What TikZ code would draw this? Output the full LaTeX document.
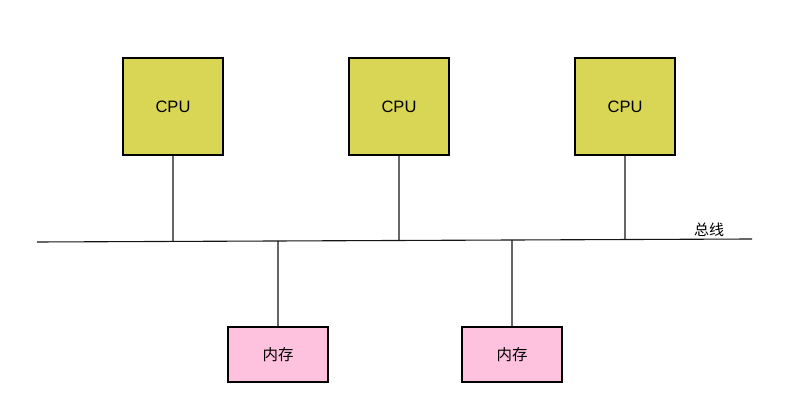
\documentclass[tikz,border=0pt]{standalone}
\usepackage{fontspec}
\setmainfont{Liberation Sans}
\newfontfamily\cjk{Noto Sans CJK SC}
\usetikzlibrary{calc}
\definecolor{cpufill}{RGB}{216,214,84}
\definecolor{memfill}{RGB}{255,194,222}
\definecolor{wire}{RGB}{20,20,20}
\begin{document}
\begin{tikzpicture}[x=1pt,y=-1pt,
  cpubox/.style={draw=black,line width=1.1pt,fill=cpufill,minimum width=100pt,minimum height=97pt,inner sep=0pt,font=\fontsize{16.5}{19}\selectfont},
  membox/.style={draw=black,line width=1.1pt,fill=memfill,minimum width=100pt,minimum height=55pt,inner sep=0pt,font=\cjk\fontsize{15.5}{18}\selectfont},
  wireline/.style={draw=wire,line width=1.1pt}]
\useasboundingbox (0,0) rectangle (809,419);
% bus endpoints
\coordinate (busL) at (37,242);
\coordinate (busR) at (752,239);
\draw[wireline] (busL) -- (busR);
\node[font=\cjk\fontsize{15}{18}\selectfont] (buslabel) at (709,230) {总线};
% processors
\node[cpubox] (cpu1) at (173,106.5) {CPU};
\node[cpubox] (cpu2) at (399,106.5) {CPU};
\node[cpubox] (cpu3) at (625,106.5) {CPU};
% memory modules
\node[membox] (mem1) at (278,354.5) {内存};
\node[membox] (mem2) at (512,354.5) {内存};
% junctions on the bus
\coordinate (j1) at ($(busL)!{(173-37)/715}!(busR)$);
\coordinate (j2) at ($(busL)!{(399-37)/715}!(busR)$);
\coordinate (j3) at ($(busL)!{(625-37)/715}!(busR)$);
\coordinate (j4) at ($(busL)!{(278-37)/715}!(busR)$);
\coordinate (j5) at ($(busL)!{(512-37)/715}!(busR)$);
\draw[wireline] (cpu1.south) -- (j1);
\draw[wireline] (cpu2.south) -- (j2);
\draw[wireline] (cpu3.south) -- (j3);
\draw[wireline] (j4) -- (mem1.north);
\draw[wireline] (j5) -- (mem2.north);
\end{tikzpicture}
\end{document}
